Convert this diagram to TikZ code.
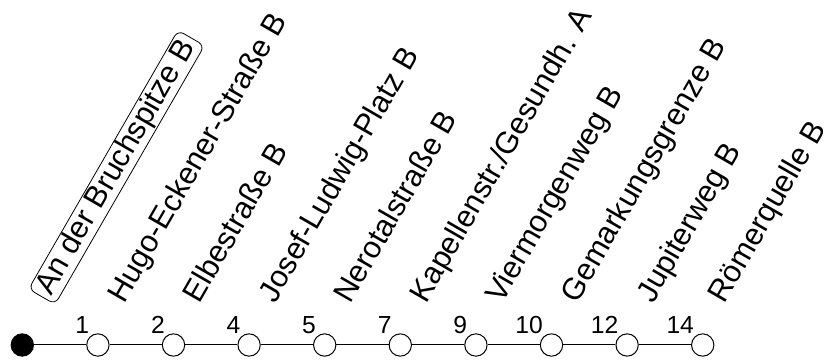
\documentclass[tikz,border=0pt]{standalone}
\usepackage{fontspec}
\setmainfont{Liberation Sans}
\tikzset{
	halt/.style={circle, draw, line width=0.75pt, minimum size=16.75pt, inner sep=0pt, fill=white},
	endhalt/.style={halt, fill=black},
	haltname/.style={rotate=60, anchor=base west, inner sep=0pt, font=\fontsize{23}{27}\selectfont},
	starthalt/.style={haltname, draw, line width=0.6pt, rounded corners=5pt, inner xsep=4pt, inner ysep=0.75pt},
	minuten/.style={anchor=base east, inner sep=0pt, font=\fontsize{18.5}{22}\selectfont},
}

\begin{document}
\begin{tikzpicture}[x=0.75pt, y=0.75pt]
		%%%%% START %%%%%
		\useasboundingbox (0, 0) rectangle (831, 363);
		
		\node[endhalt] (h0) at (22.3, 18) {};
		\node[halt] (h1) at (97.9, 18) {};
		\node[halt] (h2) at (173.5, 18) {};
		\node[halt] (h3) at (249.1, 18) {};
		\node[halt] (h4) at (324.7, 18) {};
		\node[halt] (h5) at (400.3, 18) {};
		\node[halt] (h6) at (475.9, 18) {};
		\node[halt] (h7) at (551.5, 18) {};
		\node[halt] (h8) at (627.1, 18) {};
		\node[halt] (h9) at (702.7, 18) {};
		
		\draw[line width=0.75pt] (h0) -- (h1) -- (h2) -- (h3) -- (h4) -- (h5) -- (h6) -- (h7) -- (h8) -- (h9);
		
		\node[minuten] (m1) at (89.4, 29.5) {1};
		\node[minuten] (m2) at (165, 29.5) {2};
		\node[minuten] (m3) at (240.6, 29.5) {4};
		\node[minuten] (m4) at (316.2, 29.5) {5};
		\node[minuten] (m5) at (391.8, 29.5) {7};
		\node[minuten] (m6) at (467.4, 29.5) {9};
		\node[minuten] (m7) at (543, 29.5) {10};
		\node[minuten] (m8) at (618.6, 29.5) {12};
		\node[minuten] (m9) at (694.2, 29.5) {14};
		
		\node[starthalt] (n0) at (48.5, 62) {An der Bruchspitze B};
		\node[haltname] (n1) at (123.9, 58.5) {Hugo-Eckener-Straße B};
		\node[haltname] (n2) at (199.5, 58.5) {Elbestraße B};
		\node[haltname] (n3) at (275.1, 58.5) {Josef-Ludwig-Platz B};
		\node[haltname] (n4) at (350.7, 58.5) {Nerotalstraße B};
		\node[haltname] (n5) at (426.3, 58.5) {Kapellenstr./Gesundh. A};
		\node[haltname] (n6) at (501.9, 58.5) {Viermorgenweg B};
		\node[haltname] (n7) at (577.5, 58.5) {Gemarkungsgrenze B};
		\node[haltname] (n8) at (653.1, 58.5) {Jupiterweg B};
		\node[haltname] (n9) at (724.7, 58.5) {Römerquelle B};
		%%%%% END %%%%%
\end{tikzpicture}
\end{document}
